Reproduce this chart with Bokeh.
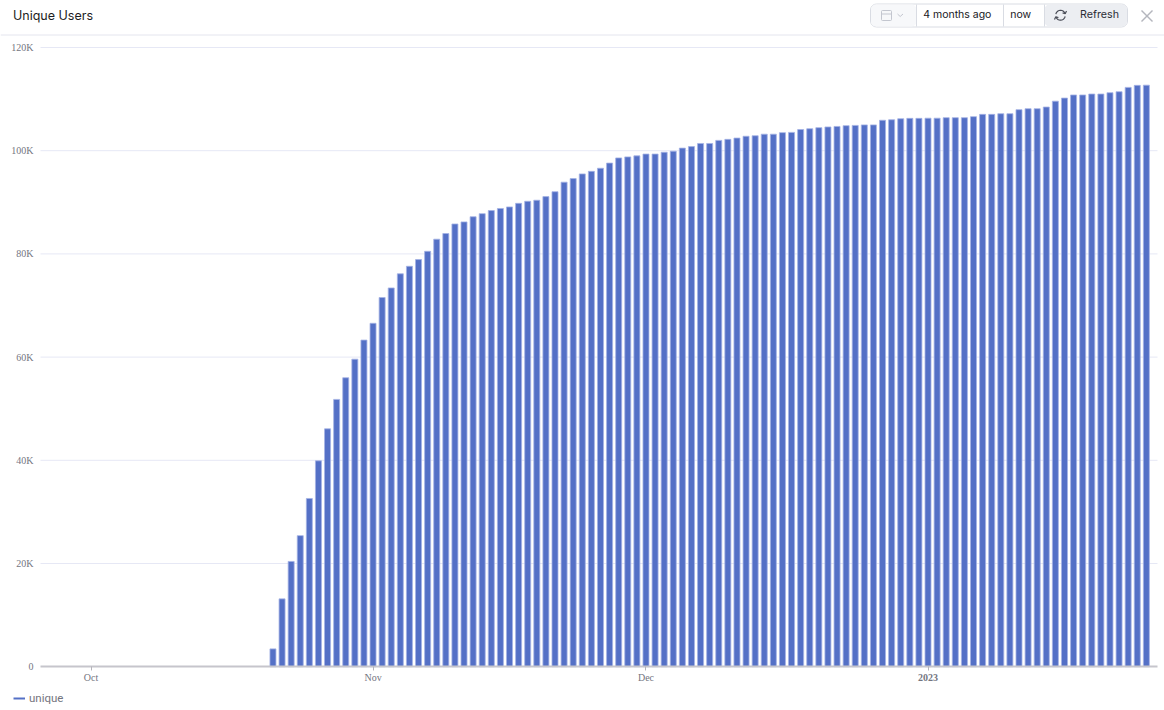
from datetime import datetime, timedelta
import math
from bokeh.plotting import figure
from bokeh.core.properties import value
from bokeh.models import Range1d, FixedTicker, BoxAnnotation, Legend, LegendItem, ColumnDataSource
from bokeh.embed import file_html
from bokeh.resources import INLINE

first_day = datetime(2022, 10, 21)
unique_k = [3.45, 13.15, 20.4, 25.4, 32.6, 39.9, 46.1, 51.8, 56.0, 59.6, 63.3,
            66.55, 71.55, 73.4, 76.15, 77.6, 78.9, 80.5, 82.85, 83.95, 85.8, 86.2, 87.2, 87.8,
            88.4, 88.8, 89.1, 89.8, 90.2, 90.4, 91.1, 92.05, 93.9, 94.6, 95.5, 96.0, 96.6, 97.6,
            98.6, 98.8, 99.0, 99.35, 99.35, 99.7, 99.9, 100.5, 100.8, 101.4, 101.4, 102.0, 102.2,
            102.45, 102.8, 102.9, 103.2, 103.2, 103.5, 103.55, 104.1, 104.26, 104.46, 104.6, 104.7,
            104.85, 104.9, 105.0, 105.0, 105.9, 106.0, 106.2, 106.27, 106.27, 106.3, 106.3, 106.4,
            106.4, 106.4, 106.6, 107.04, 107.04, 107.17, 107.17, 107.95, 108.14, 108.14, 108.46,
            109.6, 110.2, 110.8, 110.8, 110.98, 110.98, 111.24, 111.43, 112.27, 112.66, 112.7]
y_ticks = [0, 20000, 40000, 60000, 80000, 100000, 120000]
y_labels = ["0", "20K", "40K", "60K", "80K", "100K", "120K"]
x_tick_dates = [datetime(2022, 10, 1), datetime(2022, 11, 1), datetime(2022, 12, 1), datetime(2023, 1, 1)]
x_tick_labels = ["Oct", "Nov", "Dec", "2023"]
series_name = "unique"
title_text = "Unique Users"
time_from, time_to, refresh_text = "4 months ago", "now", "Refresh"

BLUE = "#5470c6"
TICK_COLOR = "#74757f"
DAY_MS = 86400000.0
def ms(d):
    return (d - datetime(1970, 1, 1)).total_seconds() * 1000.0

W, H = 1164, 710
PX_PER_DAY = 9.098
oct1_px, plot_l, plot_r, plot_t, plot_b = 90.5, 40, 1157, 47, 666.2
MS_PER_PX = DAY_MS / PX_PER_DAY
VAL_PER_PX = 120000 / (plot_b - plot_t)
oct1 = ms(x_tick_dates[0])

# The frame covers the whole page so that header and legend can live inside it.
def dx(px): return oct1 + (px - oct1_px) * MS_PER_PX
def dy(py): return (plot_b - py) * VAL_PER_PX

dates = [ms(first_day + timedelta(days=i)) for i in range(len(unique_k))]
values = [v * 1000 for v in unique_k]

p = figure(width=W, height=H, output_backend="svg", toolbar_location=None,
           x_range=Range1d(dx(0), dx(W)), y_range=Range1d(dy(H), dy(0)),
           min_border_left=0, min_border_right=0, min_border_top=0, min_border_bottom=0)
p.outline_line_color = None
p.background_fill_color = "white"
p.border_fill_color = "white"
p.xgrid.visible = False
p.ygrid.visible = False

xa = p.xaxis[0]
xa.fixed_location = 0
xa.bounds = (dx(plot_l), dx(plot_r))
xa.ticker = FixedTicker(ticks=[ms(d) for d in x_tick_dates], minor_ticks=[])
xa.major_label_overrides = {ms(d): ("" if t == "2023" else t) for d, t in zip(x_tick_dates, x_tick_labels)}
xa.axis_line_color = "#c6c5cc"
xa.axis_line_width = 2
xa.major_tick_line_color = "#b5b4bb"
xa.major_tick_in = 0
xa.major_tick_out = 4
xa.minor_tick_line_color = None
xa.major_label_standoff = 1
xa.major_label_text_font = "Liberation Serif"
xa.major_label_text_font_size = "10px"
xa.major_label_text_color = TICK_COLOR

ya = p.yaxis[0]
ya.fixed_location = dx(plot_l)
ya.ticker = FixedTicker(ticks=y_ticks, minor_ticks=[])
ya.major_label_overrides = dict(zip(y_ticks, y_labels))
ya.axis_line_color = None
ya.major_tick_line_color = None
ya.minor_tick_line_color = None
ya.major_tick_in = 0
ya.major_tick_out = 0
ya.major_label_standoff = 7
ya.major_label_text_font = "Liberation Serif"
ya.major_label_text_font_size = "10px"
ya.major_label_text_color = TICK_COLOR

# Grid rules, limited to the plot area
grid_ticks = y_ticks[1:]
p.segment(x0=[dx(plot_l)] * len(grid_ticks), x1=[dx(plot_r)] * len(grid_ticks), y0=grid_ticks, y1=grid_ticks,
          line_color="#e6e8f5", line_width=1)

src = ColumnDataSource(dict(date=dates, value=values))
p.vbar(x="date", top="value", bottom=0, width=0.66 * DAY_MS, source=src,
       fill_color=BLUE, line_color="#a4b3e4", line_width=0.8)

swatch = p.line(x=[dates[0], dates[1]], y=[float("nan"), float("nan")], line_color=BLUE, line_width=2)
legend = Legend(items=[LegendItem(label=series_name, renderers=[swatch])],
                location=(13, 5), orientation="horizontal",
                padding=0, margin=0, border_line_color=None, background_fill_alpha=0,
                glyph_width=12, glyph_height=12, label_standoff=4, label_height=12,
                label_text_font="Roboto", label_text_font_size="11.5px", label_text_color="#74747e")
p.add_layout(legend, "center")

def label(text, x, y, size="11px", color="#1c1c22", font="Inter", align="left", style="normal"):
    p.text(x=[dx(x)], y=[dy(y)], text=[text], text_font=value(font), text_font_size=value(size),
           text_color=color, text_align=align, text_baseline="middle", text_font_style=style)

def box(l, r, t, b, fill, line=None, radius=0, width=1):
    p.add_layout(BoxAnnotation(left=dx(l), right=dx(r), top=dy(t), bottom=dy(b),
                               fill_color=fill or "white", fill_alpha=1 if fill else 0,
                               line_color=line or "white", line_width=width,
                               line_alpha=1 if line else 0, border_radius=radius, level="underlay"))

def stroke(pts, color="#6b6f7a", width=1.2):
    p.line(x=[dx(a) for a, _ in pts], y=[dy(b) for _, b in pts], line_color=color, line_width=width)

def arc(cx0, cy0, r, a0, a1, n=14):
    return [(cx0 + r * math.cos(math.radians(a0 + (a1 - a0) * i / n)),
             cy0 + r * math.sin(math.radians(a0 + (a1 - a0) * i / n))) for i in range(n + 1)]

# Header
stroke([(0, 34.5), (W, 34.5)], "#e4e5ee", 1)
label(title_text, 12.5, 14.7, size="12.5px", color="#1d1d24")

box(870, 1127, 3.5, 26.5, "#ffffff", "#d9dce3", 6)
box(870.5, 916, 4, 26, "#f7f8fa", None, 5)
box(1044, 1126.5, 4, 26, "#eceef2", None, 5)
for xpos in (916, 1003, 1044):
    stroke([(xpos, 4), (xpos, 26)], "#d9dce3", 1)
label(time_from, 922.7, 14.2, size="10.5px", color="#17171c")
label(time_to, 1009.7, 14.2, size="10.5px", color="#17171c")
label(refresh_text, 1079.5, 14.2, size="10.7px", color="#2b2d35")

# Calendar icon
box(881, 891, 10, 20, None, "#c3c6cf", 1)
stroke([(881, 13.5), (891, 13.5)], "#c3c6cf", 1)
# Chevron
stroke([(897, 13.5), (899.7, 16), (902.5, 13.5)], "#c3c6cf", 1)
# Refresh icon
stroke(arc(1060, 14.5, 4.7, 190, 340), "#4a4d57", 1.2)
stroke([(1066, 10.5), (1064.7, 13.3), (1062.1, 12.4)], "#4a4d57", 1.2)
stroke(arc(1060, 15, 4.7, 10, 160), "#4a4d57", 1.2)
stroke([(1054, 19), (1055.3, 16.2), (1057.9, 17.1)], "#4a4d57", 1.2)
# Close icon
stroke([(1141, 10), (1152, 21)], "#b4b6bd", 1.4)
stroke([(1152, 10), (1141, 21)], "#b4b6bd", 1.4)

# Bold year tick
p.text(x=[ms(x_tick_dates[3])], y=[dy(677)], text=[x_tick_labels[3]], text_font=value("Liberation Serif"),
       text_font_size=value("10px"), text_font_style="bold", text_color=TICK_COLOR,
       text_align="center", text_baseline="middle")

open("out.html", "w").write(file_html(p, INLINE))
